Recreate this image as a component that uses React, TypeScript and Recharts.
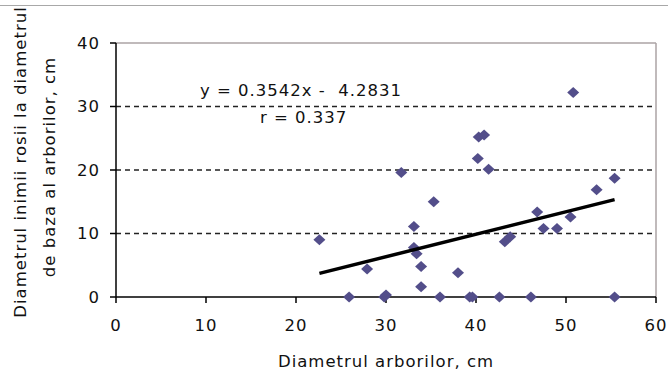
import React from "react";
import {
  ScatterChart,
  Scatter,
  XAxis,
  YAxis,
  ReferenceLine,
} from "recharts";

// ---- data ----
const treeDiameter = [
  22.6, 25.9, 27.9, 29.8, 30.0, 31.7, 33.1, 33.1, 33.4, 33.9, 33.9, 35.3, 36.0,
  38.0, 39.3, 39.6, 40.2, 40.3, 40.9, 41.4, 42.6, 43.2, 43.8, 46.1, 46.8, 47.5,
  49.0, 50.5, 50.8, 53.4, 55.4, 55.4,
];
const heartwoodDiameter = [
  9.0, 0, 4.4, 0, 0.3, 19.6, 11.1, 7.8, 6.8, 4.8, 1.6, 15.0, 0, 3.8, 0, 0, 21.8,
  25.2, 25.5, 20.1, 0, 8.7, 9.5, 0, 13.4, 10.8, 10.8, 12.6, 32.2, 16.9, 18.7, 0,
];
const trendSlope = 0.3542;
const trendIntercept = -4.2831;
const trendRange = [22.6, 55.4];
const xTicks = [0, 10, 20, 30, 40, 50, 60];
const yTicks = [0, 10, 20, 30, 40];
const gridValues = [10, 20, 30];
const equationText = "y = 0.3542x -  4.2831";
const rText = "r = 0.337";
const xTitle = "Diametrul arborilor, cm";
const yTitle1 = "Diametrul inimii rosii la diametrul";
const yTitle2 = "de baza al arborilor, cm";

const points = treeDiameter.map((x, i) => ({ x, y: heartwoodDiameter[i] }));
const trend = trendRange.map((x) => ({ x, y: trendSlope * x + trendIntercept }));

const FONT = "'DejaVu Sans', sans-serif";
const tickStyle = {
  fill: "#111",
  fontSize: 16.5,
  fontFamily: FONT,
  letterSpacing: 1,
};

const Diamond = (props: any) => {
  const { cx, cy } = props;
  if (cx == null || cy == null) return <g />;
  const w = 6;
  const h = 5.5;
  return (
    <polygon
      points={`${cx - w},${cy} ${cx},${cy - h} ${cx + w},${cy} ${cx},${cy + h}`}
      fill="#534E8A"
    />
  );
};

const textBase: React.CSSProperties = {
  position: "absolute",
  fontFamily: FONT,
  fontSize: 16.5,
  letterSpacing: 1,
  color: "#111",
  whiteSpace: "pre",
  lineHeight: 1,
};

export default function App() {
  return (
    <div style={{ position: "relative", width: 668, height: 381, background: "#fff" }}>
      <style>{`body{margin:0;background:#fff}`}</style>
      <div
        style={{
          position: "absolute",
          left: 0,
          top: 5,
          width: 668,
          height: 0,
          borderTop: "1px solid #A8A8A8",
        }}
      />
      <ScatterChart
        width={668}
        height={381}
        margin={{ top: 43, right: 12, bottom: 54, left: 0 }}
      >
        <XAxis
          type="number"
          dataKey="x"
          domain={[0, 60]}
          ticks={xTicks}
          interval={0}
          height={30}
          axisLine={{ stroke: "#000", strokeWidth: 1.5 }}
          tickLine={{ stroke: "#000", strokeWidth: 1.5 }}
          tickSize={6}
          tickMargin={16}
          tick={tickStyle}
        />
        <YAxis
          type="number"
          dataKey="y"
          domain={[0, 40]}
          ticks={yTicks}
          interval={0}
          width={116}
          axisLine={{ stroke: "#000", strokeWidth: 1.5 }}
          tickLine={{ stroke: "#000", strokeWidth: 1.5 }}
          tickSize={6}
          tickMargin={10}
          tick={tickStyle}
        />
        {gridValues.map((v) => (
          <ReferenceLine
            key={v}
            y={v}
            stroke="#222"
            strokeWidth={1.5}
            strokeDasharray="5 4"
          />
        ))}
        <ReferenceLine y={40} stroke="#ABA3A5" strokeWidth={1.5} />
        <ReferenceLine x={60} stroke="#ABA3A5" strokeWidth={1.5} />
        <Scatter
          data={points}
          shape={<Diamond />}
          isAnimationActive={false}
        />
        <Scatter
          data={trend}
          line={{ stroke: "#000", strokeWidth: 3.5 }}
          shape={() => <g />}
          isAnimationActive={false}
        />
      </ScatterChart>
      <div style={{ ...textBase, left: 200, top: 83 }}>{equationText}</div>
      <div style={{ ...textBase, left: 260, top: 110 }}>{rText}</div>
      <div
        style={{
          ...textBase,
          left: 386,
          top: 362,
          transform: "translate(-50%, -50%)",
        }}
      >
        {xTitle}
      </div>
      <div
        style={{
          ...textBase,
          left: 21,
          top: 162,
          transform: "translate(-50%, -50%) rotate(-90deg)",
        }}
      >
        {yTitle1}
      </div>
      <div
        style={{
          ...textBase,
          left: 50,
          top: 167,
          transform: "translate(-50%, -50%) rotate(-90deg)",
        }}
      >
        {yTitle2}
      </div>
    </div>
  );
}
